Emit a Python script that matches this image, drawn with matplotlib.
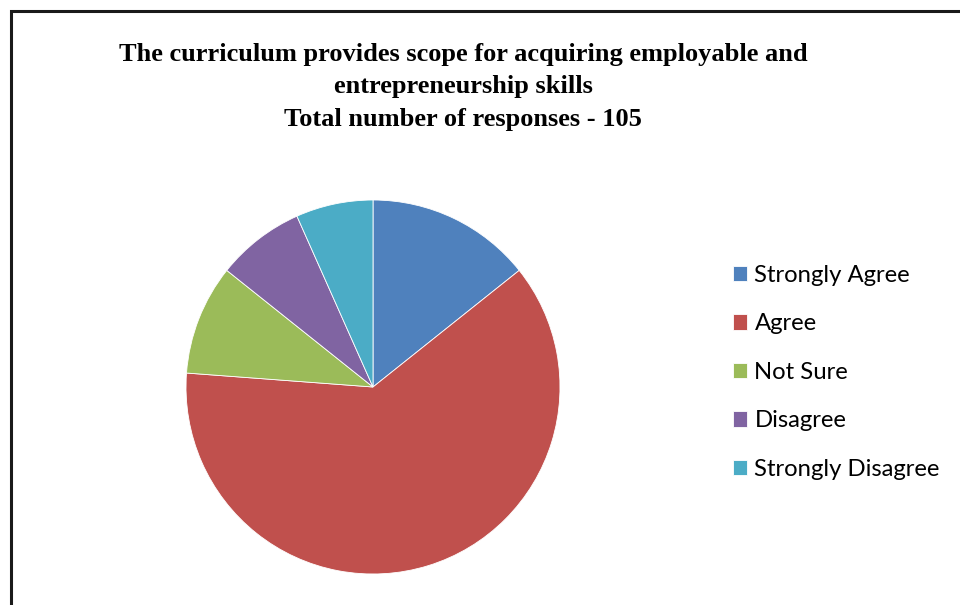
import matplotlib.pyplot as plt
from matplotlib.patches import Rectangle

categories = ["Strongly Agree", "Agree", "Not Sure", "Disagree", "Strongly Disagree"]
responses = [15, 65, 10, 8, 7]
colors = ["#4F81BD", "#C0504D", "#9BBB59", "#8064A2", "#4BACC6"]

title_lines = [
    "The curriculum provides scope for acquiring employable and",
    "entrepreneurship skills",
    "Total number of responses - 105",
]

W, H = 960, 605
fig = plt.figure(figsize=(W / 100, H / 100), dpi=100)

# chart frame (right and bottom edges are cut off in the original)
fig.add_artist(Rectangle((11 / W, -0.1), 1.2, 1.1 - 11 / H,
                         transform=fig.transFigure, fill=False,
                         edgecolor="#1a1a1a", linewidth=2.2))

cx, cy, r = 373, 387, 187
ax = fig.add_axes([(cx - r) / W, 1 - (cy + r) / H, 2 * r / W, 2 * r / H])
wedges, _ = ax.pie(responses, colors=colors, startangle=90, counterclock=False,
                   radius=1, wedgeprops=dict(edgecolor="white", linewidth=0.6))
ax.set_xlim(-1, 1)
ax.set_ylim(-1, 1)
ax.set_aspect("equal")
ax.axis("off")

for i, line in enumerate(title_lines):
    fig.text(463 / W, 1 - (55 + 32 * i) / H, line, ha="center", va="center",
             fontsize=19, fontweight="bold", family="Liberation Serif")

fig.legend(wedges, categories, loc="upper left", bbox_to_anchor=(733 / W, 1 - 265 / H),
           frameon=False, prop={"family": "Lato", "size": 17.2},
           handlelength=0.6, handleheight=0.6, handletextpad=0.3,
           labelspacing=1.15, borderpad=0, borderaxespad=0)

fig.savefig("out.png", dpi=100)
